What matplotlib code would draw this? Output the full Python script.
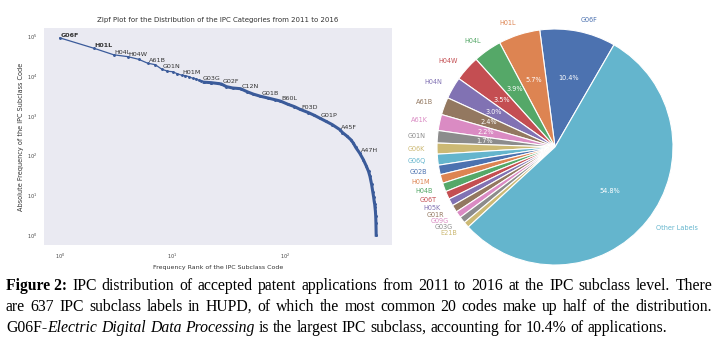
import matplotlib
matplotlib.use("Agg")
import matplotlib.pyplot as plt
import numpy as np

# ---------------- data ----------------
ranks = [1, 2, 3, 4, 5, 6, 7, 8, 9, 10, 11, 12, 13, 14, 15, 16, 17, 18, 19,
         22, 25, 27, 30, 34, 40, 46, 52, 60, 70, 80, 90, 105, 120, 135, 160,
         180, 202, 230, 260, 303, 320, 350, 380, 400, 420, 455, 490, 520, 545,
         561, 580, 595, 605, 612, 618, 622, 627, 631, 634, 637]
freqs = [91000, 50000, 34200, 30700, 26300, 21000, 19300, 14900, 13200, 12800,
         11400, 10500, 10200, 9600, 8800, 8500, 7900, 7700, 7000,
         6800, 6500, 6300, 5400, 5000, 4800, 4000, 3500, 3100, 2800, 2550,
         2350, 1950, 1700, 1450, 1200, 1030, 870, 720, 600, 450, 380, 310,
         250, 205, 160, 115, 79, 55, 40, 30, 19, 12, 9, 7, 6, 5, 4, 3, 2, 1]
label_ranks = [1, 2, 3, 4, 6, 8, 12, 18, 27, 40, 60, 90, 135, 202, 303, 455]
label_codes = ["G06F", "H01L", "H04L", "H04W", "A61B", "G01N", "H01M", "G03G",
               "G02F", "C12N", "G01B", "B60L", "F03D", "G01P", "A45F", "A47H"]

pie_labels = ["G06F", "H01L", "H04L", "H04W", "H04N", "A61B", "A61K", "G01N",
              "G06K", "G06Q", "G02B", "H01M", "H04B", "G06T", "H05K", "G01R",
              "G09G", "G03G", "E21B", "Other Labels"]
pie_pct = [10.4, 5.7, 3.9, 3.5, 3.0, 2.4, 2.2, 1.7, 1.5, 1.5, 1.3, 1.2, 1.2,
           1.1, 1.0, 1.0, 0.9, 0.9, 0.8, 54.8]

deep = ["#4C72B0", "#DD8452", "#55A868", "#C44E52", "#8172B3",
        "#937860", "#DA8BC3", "#8C8C8C", "#CCB974", "#64B5CD"]

W, H = 720, 343
fig = plt.figure(figsize=(W / 100, H / 100), dpi=100)
fig.patch.set_facecolor("white")

# ---------------- Zipf plot ----------------
ax = fig.add_axes([44 / W, 1 - 245 / H, (392 - 44) / W, (245 - 28) / H])
ax.set_facecolor("#EAEAF2")
for s in ax.spines.values():
    s.set_visible(False)
line_col = "#3B5B9A"
ax.plot(ranks[:20], freqs[:20], color=line_col, lw=0.9, marker=".", ms=2.2)
ax.plot(ranks[18:], freqs[18:], color=line_col, lw=2.2, marker=".", ms=2.2)
ax.set_xscale("log")
ax.set_yscale("log")
ax.margins(0.05)
ax.set_xticks([1, 10, 100])
ax.set_yticks([1, 10, 100, 1000, 10000, 100000])
ax.minorticks_off()
ax.tick_params(length=0, labelsize=3.6, labelcolor="#444444", pad=5)
for r, c in zip(label_ranks, label_codes):
    f = freqs[ranks.index(r)]
    ax.text(r * 1.02, f * 1.05, c, fontsize=4.6, color="#333333",
            fontweight="bold" if c in ("G06F", "H01L") else "normal")
ax.set_title("Zipf Plot for the Distribution of the IPC Categories from 2011 to 2016",
             fontsize=5.0, color="#333333", pad=4)
ax.set_xlabel("Frequency Rank of the IPC Subclass Code", fontsize=4.5,
              color="#333333", labelpad=3)
ax.set_ylabel("Absolute Frequency of the IPC Subclass Code", fontsize=4.7,
              color="#333333", labelpad=2)

# ---------------- Pie ----------------
R = 118
cx, cy = 555, 147
side = 2 * 1.25 * R
ax2 = fig.add_axes([(cx - side / 2) / W, 1 - (cy + side / 2) / H, side / W, side / H])
cols = [deep[i % 10] for i in range(len(pie_pct))]
wedges, texts, autotexts = ax2.pie(
    pie_pct, labels=pie_labels, colors=cols, startangle=60, counterclock=True,
    autopct=lambda p: f"{p:.1f}%" if p > 1.6 else "", pctdistance=0.6,
    labeldistance=1.1, wedgeprops=dict(edgecolor="white", linewidth=0.8),
    textprops=dict(fontsize=4.7))
for t, c in zip(texts, cols):
    t.set_color(c)
for t in autotexts:
    t.set_color("white")
    t.set_fontsize(4.7)
ax2.set_xlim(-1.25, 1.25)
ax2.set_ylim(-1.25, 1.25)
ax2.set_aspect("equal")

# ---------------- Caption ----------------
serif = "Liberation Serif"
renderer = fig.canvas.get_renderer()

lines = [
    [[("Figure 2:", "bold", "normal")]] +
    [[(w, "normal", "normal")] for w in
     "IPC distribution of accepted patent applications from 2011 to 2016 at the IPC subclass level. There".split()],
    [[(w, "normal", "normal")] for w in
     "are 637 IPC subclass labels in HUPD, of which the most common 20 codes make up half of the distribution.".split()],
    [[("G06F-", "normal", "normal"), ("Electric", "normal", "italic")]] +
    [[(w, "normal", "italic")] for w in "Digital Data Processing".split()] +
    [[(w, "normal", "normal")] for w in
     "is the largest IPC subclass, accounting for 10.4% of applications.".split()],
]
baselines = [290, 311, 332]
justify = [True, True, False]
x0, x1 = 6, 712


def measure(txt, fs, wt="normal", st="normal"):
    t = fig.text(0, 0, txt, family=serif, fontsize=fs, fontweight=wt, fontstyle=st)
    w = t.get_window_extent(renderer).width
    t.remove()
    return w


def natural_width(words, fs):
    sw = measure("a b", fs) - measure("ab", fs)
    tot = sum(measure(txt, fs, wt, st) for word in words for txt, wt, st in word)
    return tot + sw * (len(words) - 1)


fs = 11.0
nw = max(natural_width(lines[0], fs), natural_width(lines[1], fs))
fs = fs * (x1 - x0 - 4) / nw * 0.98
space_w = measure("a b", fs) - measure("ab", fs)

for words, yb, just in zip(lines, baselines, justify):
    objs = []
    widths = []
    for word in words:
        segs = []
        ww = 0
        for txt, wt, st in word:
            t = fig.text(0, 1 - yb / H, txt, family=serif, fontsize=fs,
                         fontweight=wt, fontstyle=st, va="baseline", ha="left",
                         color="black")
            w = t.get_window_extent(renderer).width
            segs.append((t, w))
            ww += w
        objs.append(segs)
        widths.append(ww)
    total = sum(widths)
    if just and len(words) > 1:
        gap = (x1 - x0 - total) / (len(words) - 1)
    else:
        gap = space_w
    x = x0
    for segs, ww in zip(objs, widths):
        xx = x
        for t, w in segs:
            t.set_x(xx / W)
            xx += w
        x += ww + gap

fig.savefig("out.png", dpi=100)
